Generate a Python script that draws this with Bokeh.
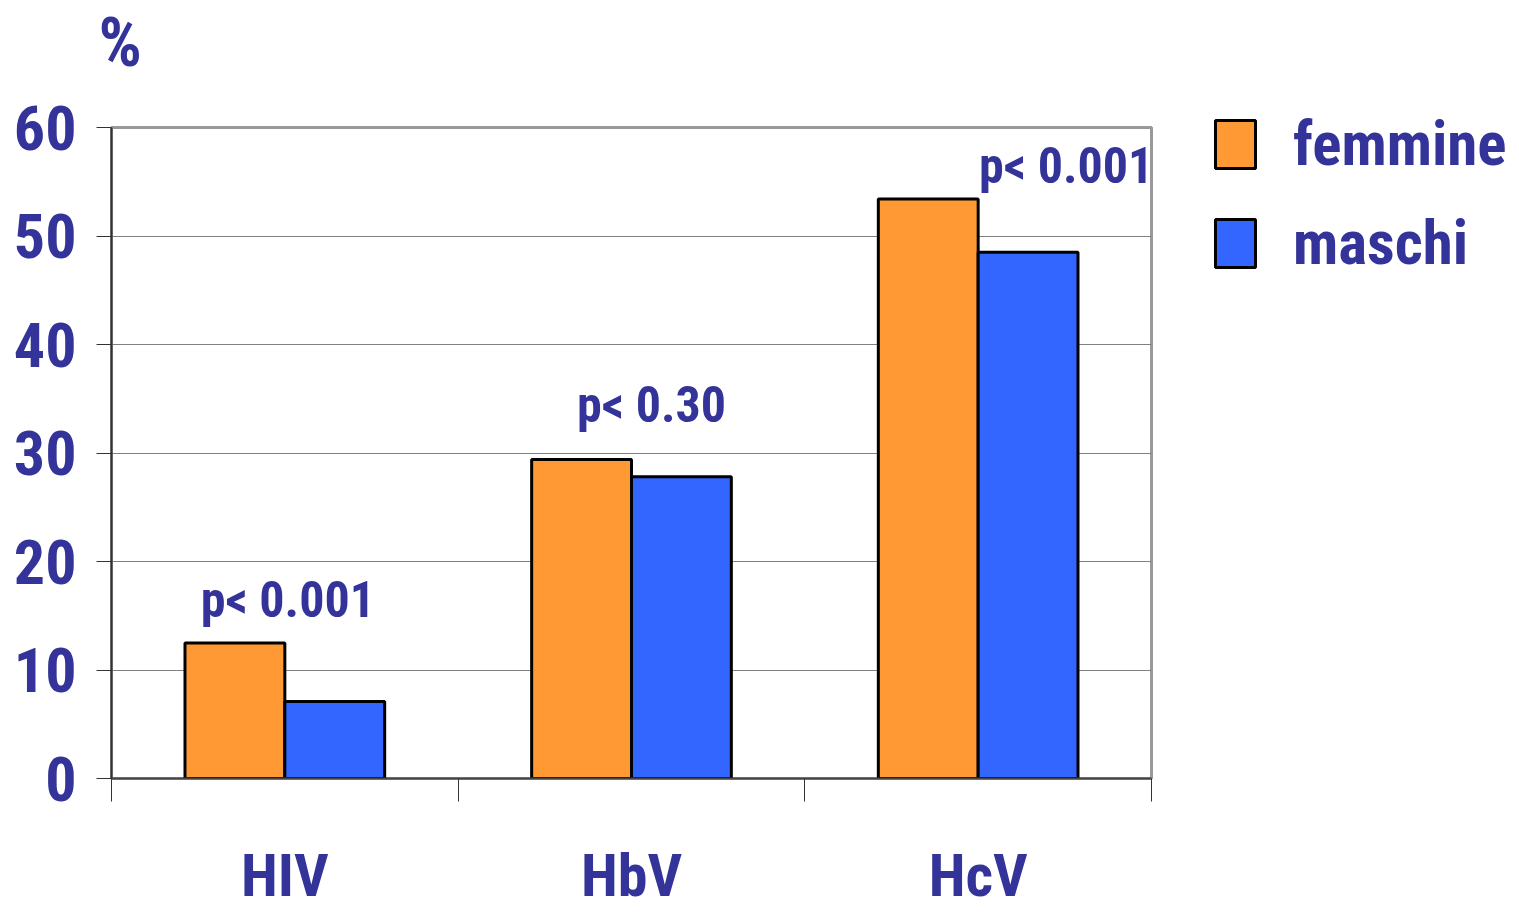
from bokeh.plotting import figure
from bokeh.models import (ColumnDataSource, Range1d, LinearAxis,
                          FixedTicker, Legend, LegendItem, Title)
from bokeh.transform import dodge
from bokeh.core.properties import value
from bokeh.embed import file_html
from bokeh.resources import INLINE

categories = ["HIV", "HbV", "HcV"]
femmine = [12.5, 29.4, 53.4]
maschi = [7.1, 27.8, 48.5]
p_labels = ["p< 0.001", "p< 0.30", "p< 0.001"]
p_label_y = [14.7, 32.7, 54.7]
y_ticks = [0, 10, 20, 30, 40, 50, 60]

FONT = "'Roboto Condensed', 'Liberation Sans Narrow', 'Arial Narrow', 'Liberation Sans', sans-serif"
TXT = "#333399"
ORANGE = "#FF9933"
BLUE = "#3366FF"

n = len(categories)
centers = [i + 0.5 for i in range(n)]          # category band centres on a 0..n axis
bounds = list(range(n + 1))                     # category band boundaries

src = ColumnDataSource(dict(xc=centers, cat=categories, f=femmine, m=maschi,
                            pl=p_labels, py=p_label_y, pxo=[3, 20, 88]))

p = figure(x_range=Range1d(0, n), y_range=Range1d(0, 60),
           frame_width=1040, frame_height=651, output_backend="svg", toolbar_location=None,
           x_axis_location=None, y_axis_location=None,
           min_border_left=100, min_border_right=363, min_border_top=121, min_border_bottom=126)

# y axis
yax = LinearAxis(ticker=FixedTicker(ticks=y_ticks))
yax.axis_line_color = "#333333"
yax.axis_line_width = 2
yax.major_tick_out = 15
yax.major_tick_in = 0
yax.major_tick_line_color = "#333333"
yax.minor_tick_line_color = None
yax.major_label_standoff = 20
yax.major_label_text_font = FONT
yax.major_label_text_font_style = "bold"
yax.major_label_text_font_size = "62px"
yax.major_label_text_color = TXT
yax.axis_label = " "
yax.axis_label_text_font_size = "1px"
yax.axis_label_standoff = 6
p.add_layout(yax, "left")

# boundary tick axis
bax = LinearAxis(ticker=FixedTicker(ticks=bounds))
bax.axis_line_color = "#444444"
bax.axis_line_width = 2
bax.major_tick_out = 23
bax.major_tick_in = 0
bax.major_tick_line_color = "#333333"
bax.minor_tick_line_color = None
bax.major_label_text_font_size = "0px"
bax.major_label_text_color = None
bax.major_label_standoff = 0
p.add_layout(bax, "below")

# category label axis
cax = LinearAxis(ticker=FixedTicker(ticks=centers),
                 major_label_overrides={c: lab for c, lab in zip(centers, categories)})
cax.axis_line_color = None
cax.major_tick_line_color = None
cax.minor_tick_line_color = None
cax.major_label_standoff = 32
cax.major_label_text_font = FONT
cax.major_label_text_font_style = "bold"
cax.major_label_text_font_size = "60px"
cax.major_label_text_color = TXT
p.add_layout(cax, "below")

p.xgrid.grid_line_color = None
p.ygrid.ticker = FixedTicker(ticks=y_ticks)
p.ygrid.grid_line_color = "#808080"
p.ygrid.grid_line_width = 1
p.outline_line_color = "#999999"
p.outline_line_width = 3

w = 0.288
rf = p.vbar(x=dodge("xc", -w / 2), top="f", width=w, source=src,
            fill_color=ORANGE, line_color="black", line_width=3)
rm = p.vbar(x=dodge("xc", w / 2), top="m", width=w, source=src,
            fill_color=BLUE, line_color="black", line_width=3)

p.text(x="xc", y="py", text="pl", x_offset="pxo", y_offset=-19, source=src, text_align="center",
       text_baseline="alphabetic", text_font=value(FONT), text_font_style="bold",
       text_font_size="50px", text_color=TXT)

# spacer between frame and the "%" title
spacer = Title(text=" ", text_font_size="1px", standoff=42)
p.add_layout(spacer, "above")

p.title.text = "%"
p.title.text_font = FONT
p.title.text_font_style = "bold"
p.title.text_font_size = "68px"
p.title.text_color = TXT
p.title.offset = -13
p.title.standoff = 0

legend = Legend(items=[LegendItem(label="femmine", renderers=[rf]),
                       LegendItem(label="maschi", renderers=[rm])],
                location=(59, 499), orientation="vertical")
legend.glyph_width = 50
legend.glyph_height = 60
legend.label_standoff = 33
legend.label_text_font = FONT
legend.label_text_font_style = "bold"
legend.label_text_font_size = "61px"
legend.label_text_color = TXT
legend.border_line_color = None
legend.background_fill_alpha = 0
legend.spacing = 27
legend.margin = 0
legend.padding = 0
p.add_layout(legend, "right")

open("out.html", "w").write(file_html(p, INLINE))
